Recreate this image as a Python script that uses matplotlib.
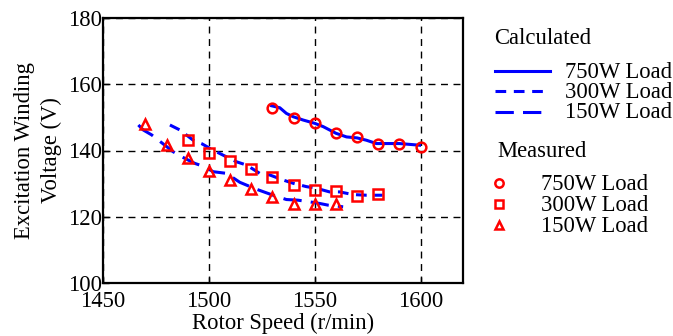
import matplotlib
matplotlib.use("Agg")
import matplotlib.pyplot as plt
from matplotlib.lines import Line2D

plt.rcParams['font.family'] = ['Liberation Serif', 'DejaVu Serif']

# Measured data
meas_750_x = [1530, 1540, 1550, 1560, 1570, 1580, 1590, 1600]
meas_750_y = [152.9, 149.9, 148.2, 145.2, 144.0, 142.1, 142.1, 141.1]
meas_300_x = [1490, 1500, 1510, 1520, 1530, 1540, 1550, 1560, 1570, 1580]
meas_300_y = [143.1, 139.1, 136.8, 134.3, 132.0, 129.5, 128.0, 127.8, 126.2, 126.8]
meas_150_x = [1470, 1480, 1490, 1500, 1510, 1520, 1530, 1540, 1550, 1560]
meas_150_y = [147.9, 141.6, 137.8, 133.8, 131.1, 128.3, 126.0, 123.7, 123.7, 123.7]

# Calculated curves
calc_750_x = [1529.6, 1533.5, 1536.6, 1539.8, 1544.5, 1550, 1554, 1560, 1565, 1570, 1574.4, 1579.1, 1590, 1599.5]
calc_750_y = [153.5, 152.9, 151.2, 150.2, 149.2, 148.2, 147.2, 145.2, 144.1, 143.8, 143.1, 142.1, 142.1, 141.6]
calc_300_x = [1481.6, 1486.3, 1492.6, 1496.5, 1502, 1506.7, 1513, 1517.8, 1524, 1528.8, 1535, 1539.8, 1546, 1550.8, 1557, 1561.8, 1568, 1574.4, 1582]
calc_300_y = [147.7, 146.2, 143.1, 142.1, 140.1, 138.6, 136.6, 135.6, 133.1, 132.6, 131.1, 130.1, 129.1, 128.6, 127.5, 127.5, 126.7, 126.5, 126.5]
calc_150_x = [1466.7, 1469, 1473, 1479.2, 1483.2, 1488.7, 1493.4, 1498, 1502, 1508.3, 1514.6, 1522.5, 1530.3, 1536.6, 1542.1, 1547.6, 1552.4, 1556.3, 1563.4]
calc_150_y = [147.7, 146.2, 144.7, 141.6, 139.6, 137.6, 136.1, 135.1, 133.6, 133.1, 130.4, 128.3, 126.5, 125.2, 125.0, 124.5, 124.0, 123.5, 123.0]

x_ticks = [1450, 1500, 1550, 1600]
y_ticks = [100, 120, 140, 160, 180]
legend_labels = ["750W Load", "300W Load", "150W Load"]

BLUE = (0, 0, 1)
RED = (1, 0, 0)
FS = 16.3

fig = plt.figure(figsize=(6.73, 3.36), dpi=100)
ax = fig.add_axes([103/673, 1-283/336, 360/673, 265/336])

ls_750 = '-'
ls_300 = (0, (3.5, 2.5))
ls_150 = (0, (6, 3))

ax.plot(calc_750_x, calc_750_y, color=BLUE, lw=2.2, ls=ls_750, zorder=3)
ax.plot(calc_300_x, calc_300_y, color=BLUE, lw=2.2, ls=ls_300, zorder=3)
ax.plot(calc_150_x, calc_150_y, color=BLUE, lw=2.2, ls=ls_150, zorder=3)

mk = dict(ls='none', mfc='none', mec=RED, mew=1.8, ms=7, zorder=4)
ax.plot(meas_750_x, meas_750_y, marker='o', **mk)
ax.plot(meas_300_x, meas_300_y, marker='s', **mk)
ax.plot(meas_150_x, meas_150_y, marker='^', **mk)

ax.set_xlim(1450, 1620)
ax.set_ylim(100, 180)
ax.set_xticks(x_ticks)
ax.set_yticks(y_ticks)
ax.tick_params(direction='in', length=4, width=1, labelsize=FS)
ax.tick_params(axis='x', pad=6)
ax.tick_params(axis='y', pad=1)
ax.grid(True, color='black', ls=(0, (5, 4)), lw=1.0)
for s in ax.spines.values():
    s.set_linewidth(1.6)

ax.set_xlabel("Rotor Speed (r/min)", fontsize=FS, labelpad=0)
ax.set_ylabel("Excitation Winding\nVoltage (V)", fontsize=FS, labelpad=4, linespacing=1.35)

# Manual legend in figure pixel coordinates
def fx(px):
    return px / 673
def fy(py):
    return 1 - py / 336

fig.text(fx(494), fy(39), "Calculated", fontsize=FS, va='center', ha='left')
line_rows = [71, 91, 112]
styles = [ls_750, ls_300, ls_150]
for row, st, lab in zip(line_rows, styles, legend_labels):
    fig.add_artist(Line2D([fx(495), fx(550)], [fy(row), fy(row)], color=BLUE, lw=2.2, ls=st))
    fig.text(fx(565), fy(row + 1), lab, fontsize=FS, va='center', ha='left')

fig.text(fx(497), fy(152), "Measured", fontsize=FS, va='center', ha='left')
mk_rows = [183, 204, 225]
markers = ['o', 's', '^']
for row, m, lab in zip(mk_rows, markers, legend_labels):
    fig.add_artist(Line2D([fx(499)], [fy(row)], marker=m, ls='none', mfc='none', mec=RED, mew=1.8, ms=6))
    fig.text(fx(541), fy(row + 1), lab, fontsize=FS, va='center', ha='left')

fig.savefig("out.png", dpi=100)
